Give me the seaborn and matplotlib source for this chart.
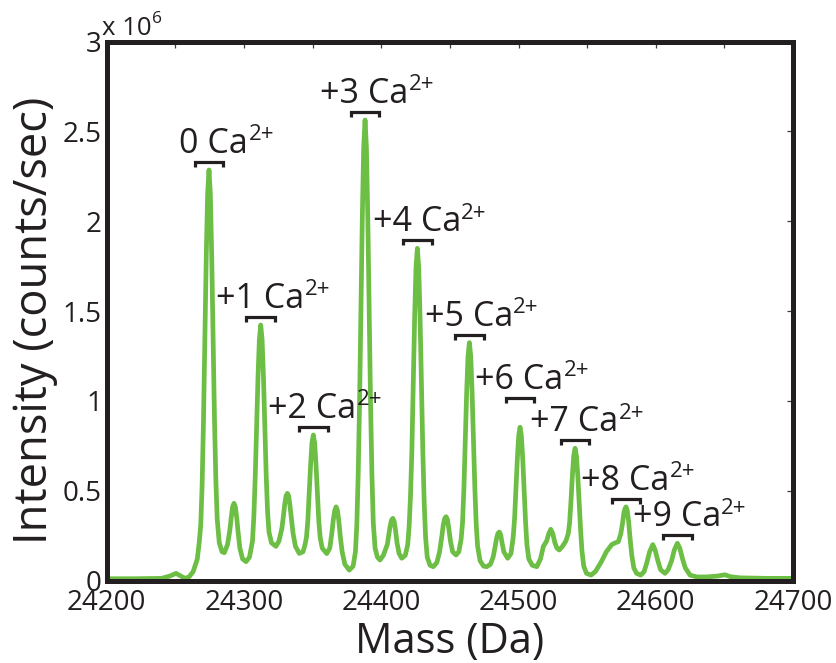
import matplotlib
matplotlib.use("Agg")
import matplotlib.pyplot as plt
import pandas as pd
import seaborn as sns
from matplotlib.ticker import MultipleLocator, FormatStrFormatter

# Deconvoluted ESI mass spectrum (intensity in units of 10^6 counts/sec)
mass_da = [
    24200.0, 24220.0, 24240.0, 24246.0, 24250.5, 24254.0, 24257.0, 24260.0, 24263.0, 24266.0,
    24267.5, 24268.5, 24269.5, 24270.5, 24271.5, 24272.5, 24273.5, 24274.5, 24275.5, 24276.5,
    24277.5, 24278.5, 24279.5, 24280.5, 24282.0, 24284.0, 24285.7, 24288.0, 24289.7, 24290.7,
    24291.7, 24292.7, 24293.7, 24294.7, 24295.7, 24297.0, 24299.0, 24301.5, 24304.0, 24306.2,
    24307.2, 24308.2, 24309.2, 24310.2, 24311.2, 24312.2, 24313.2, 24314.2, 24315.2, 24316.2,
    24317.2, 24318.2, 24320.0, 24323.3, 24325.5, 24327.6, 24328.6, 24329.6, 24330.6, 24331.6,
    24332.6, 24333.6, 24334.6, 24335.8, 24337.5, 24340.3, 24343.0, 24344.5, 24345.5, 24346.5,
    24347.5, 24348.5, 24349.5, 24350.5, 24351.5, 24352.5, 24353.5, 24354.5, 24355.5, 24357.0,
    24360.3, 24362.5, 24364.1, 24365.1, 24366.1, 24367.1, 24368.1, 24369.1, 24370.1, 24371.5,
    24373.5, 24376.7, 24379.5, 24381.2, 24382.2, 24383.2, 24384.2, 24385.2, 24386.2, 24387.2,
    24388.2, 24389.2, 24390.2, 24391.2, 24392.2, 24393.2, 24394.2, 24395.5, 24397.2, 24399.1,
    24401.5, 24404.4, 24405.4, 24406.4, 24407.4, 24408.4, 24409.4, 24410.4, 24411.5, 24413.0,
    24414.9, 24417.5, 24419.3, 24420.3, 24421.3, 24422.3, 24423.3, 24424.3, 24425.3, 24426.3,
    24427.3, 24428.3, 24429.3, 24430.3, 24431.3, 24432.3, 24433.5, 24435.5, 24437.9, 24440.5,
    24442.5, 24444.2, 24445.2, 24446.2, 24447.2, 24448.2, 24449.2, 24450.4, 24452.0, 24454.5,
    24456.5, 24458.2, 24459.2, 24460.2, 24461.2, 24462.2, 24463.2, 24464.2, 24465.2, 24466.2,
    24467.2, 24468.2, 24469.2, 24470.2, 24472.0, 24474.5, 24476.8, 24479.5, 24481.5, 24483.0,
    24484.0, 24485.0, 24486.0, 24487.0, 24488.0, 24489.3, 24492.1, 24494.5, 24496.1, 24497.1,
    24498.1, 24499.1, 24500.1, 24501.1, 24502.1, 24503.1, 24504.1, 24505.1, 24506.1, 24507.5,
    24510.0, 24513.3, 24516.0, 24518.1, 24520.5, 24522.0, 24523.5, 24525.0, 24526.5, 24528.0,
    24529.7, 24532.0, 24534.5, 24536.2, 24537.2, 24538.2, 24539.2, 24540.2, 24541.2, 24542.2,
    24543.2, 24544.2, 24545.2, 24546.2, 24547.5, 24549.5, 24552.8, 24556.0, 24560.0, 24564.0,
    24567.9, 24570.5, 24572.7, 24574.5, 24575.8, 24576.8, 24577.6, 24578.3, 24579.2, 24580.2,
    24581.2, 24582.5, 24584.0, 24586.0, 24589.0, 24591.5, 24593.5, 24595.5, 24597.8, 24599.5,
    24601.5, 24603.5, 24606.7, 24609.0, 24611.5, 24613.5, 24615.7, 24617.5, 24619.5, 24621.5,
    24625.0, 24630.0, 24637.0, 24645.0, 24650.5, 24654.0, 24661.0, 24680.0, 24700.0,
]
intensity_1e6 = [
    0.010, 0.010, 0.012, 0.025, 0.040, 0.025, 0.012, 0.020, 0.050, 0.120,
    0.220, 0.310, 0.530, 0.890, 1.350, 1.800, 2.150, 2.285, 2.150, 1.800,
    1.350, 0.900, 0.560, 0.340, 0.210, 0.160, 0.155, 0.200, 0.280, 0.350,
    0.410, 0.430, 0.410, 0.350, 0.270, 0.180, 0.120, 0.105, 0.130, 0.220,
    0.360, 0.580, 0.850, 1.130, 1.340, 1.422, 1.340, 1.130, 0.850, 0.580,
    0.380, 0.270, 0.210, 0.190, 0.220, 0.290, 0.350, 0.420, 0.470, 0.485,
    0.470, 0.410, 0.340, 0.260, 0.190, 0.151, 0.160, 0.200, 0.240, 0.330,
    0.480, 0.640, 0.765, 0.810, 0.765, 0.640, 0.480, 0.330, 0.240, 0.180,
    0.150, 0.180, 0.270, 0.340, 0.390, 0.410, 0.390, 0.330, 0.250, 0.160,
    0.090, 0.058, 0.080, 0.160, 0.310, 0.590, 0.990, 1.500, 2.020, 2.410,
    2.563, 2.410, 2.020, 1.500, 0.990, 0.590, 0.320, 0.180, 0.130, 0.114,
    0.140, 0.200, 0.250, 0.300, 0.335, 0.346, 0.330, 0.280, 0.210, 0.150,
    0.124, 0.140, 0.200, 0.300, 0.470, 0.720, 1.084, 1.457, 1.742, 1.849,
    1.742, 1.457, 1.084, 0.714, 0.430, 0.240, 0.130, 0.085, 0.077, 0.100,
    0.160, 0.250, 0.310, 0.345, 0.355, 0.340, 0.290, 0.220, 0.160, 0.142,
    0.160, 0.230, 0.320, 0.510, 0.776, 1.043, 1.247, 1.324, 1.247, 1.043,
    0.776, 0.511, 0.310, 0.190, 0.110, 0.080, 0.077, 0.090, 0.130, 0.190,
    0.235, 0.262, 0.270, 0.255, 0.210, 0.160, 0.124, 0.150, 0.240, 0.340,
    0.500, 0.672, 0.804, 0.853, 0.804, 0.672, 0.500, 0.330, 0.200, 0.120,
    0.085, 0.077, 0.120, 0.190, 0.220, 0.260, 0.285, 0.260, 0.210, 0.180,
    0.170, 0.190, 0.220, 0.260, 0.320, 0.440, 0.580, 0.693, 0.736, 0.693,
    0.580, 0.431, 0.284, 0.166, 0.080, 0.040, 0.030, 0.050, 0.100, 0.160,
    0.200, 0.210, 0.216, 0.260, 0.320, 0.380, 0.400, 0.410, 0.390, 0.330,
    0.240, 0.140, 0.070, 0.040, 0.030, 0.050, 0.100, 0.160, 0.200, 0.170,
    0.110, 0.060, 0.040, 0.060, 0.110, 0.170, 0.207, 0.180, 0.120, 0.070,
    0.030, 0.020, 0.020, 0.025, 0.032, 0.022, 0.015, 0.012, 0.012,
]

# Calcium-bound species: apex mass and intensity of each labelled peak
peak_labels = ["0", "+1", "+2", "+3", "+4", "+5", "+6", "+7", "+8", "+9"]
peak_mass = [24274.5, 24312.2, 24350.5, 24388.2, 24426.3,
             24464.2, 24501.1, 24541.2, 24578.3, 24615.7]
peak_intensity = [2.285, 1.422, 0.810, 2.563, 1.849,
                  1.324, 0.853, 0.736, 0.410, 0.207]

x_ticks = [24200, 24300, 24400, 24500, 24600, 24700]
y_ticks = [0, 0.5, 1, 1.5, 2, 2.5, 3]

GREEN = "#6cbe45"
INK = "#231f20"
DPI = 100

sns.set_theme(style="white")
plt.rcParams["font.family"] = ["Open Sans", "DejaVu Sans"]
plt.rcParams["text.color"] = INK

fig = plt.figure(figsize=(8.37, 6.63), dpi=DPI)
W_PX, H_PX = fig.get_size_inches() * DPI
ax = fig.add_axes([0.1275, 0.1244, 0.8200, 0.8130])

spectrum = pd.DataFrame({"Mass (Da)": mass_da, "Intensity": intensity_1e6})
sns.lineplot(data=spectrum, x="Mass (Da)", y="Intensity", ax=ax,
             color=GREEN, linewidth=3.4, sort=False, estimator=None,
             solid_joinstyle="round", solid_capstyle="round")

ax.set_xlim(24200, 24700)
ax.set_ylim(0, 3)
ax.set_xticks(x_ticks)
ax.xaxis.set_minor_locator(MultipleLocator(50))
ax.set_yticks(y_ticks)
ax.yaxis.set_major_formatter(FormatStrFormatter("%g"))

for side in ["left", "right", "top", "bottom"]:
    ax.spines[side].set_visible(True)
    ax.spines[side].set_linewidth(3.6)
    ax.spines[side].set_color(INK)
    ax.spines[side].set_zorder(5)

ax.tick_params(which="both", direction="in", length=4.5, width=0.9,
               color="#3c3c3c", top=True, right=True,
               labelcolor=INK, labelsize=20)
ax.tick_params(axis="x", which="both", pad=6)
ax.tick_params(axis="y", which="both", pad=3.5)
ax.grid(False)

ax.set_xlabel("Mass (Da)", fontsize=30, color=INK)
ax.xaxis.label.set_va("baseline")
ax.xaxis.set_label_coords(0.5, -0.135)

ax.set_ylabel("Intensity (counts/sec)", fontsize=30, color=INK)
ylab = ax.yaxis.label
ylab.set_va("baseline")
ylab.set_rotation_mode("anchor")
ax.yaxis.set_label_coords(-0.0874, 0.5)

renderer = fig.canvas.get_renderer()

# Fit the y label between 97 px and 545 px from the top of the figure
label_top_px, label_bottom_px = 97.0, 545.0
bb = ylab.get_window_extent(renderer)
ylab.set_fontsize(30 * (label_bottom_px - label_top_px) / bb.height)
ax_bb = ax.get_window_extent(renderer)
centre_disp = H_PX - 0.5 * (label_top_px + label_bottom_px)
ax.yaxis.set_label_coords(-0.0874, (centre_disp - ax_bb.y0) / ax_bb.height)
bb = ylab.get_window_extent(renderer)
shift = (H_PX - label_top_px) - bb.y1
ax.yaxis.set_label_coords(-0.0874, (centre_disp + shift - ax_bb.y0) / ax_bb.height)


def superscript_after(base_text, base_y_px, text, size, raise_pt, gap_px=0.0):
    """Place a raised text right after the end of base_text (display coords)."""
    tb = base_text.get_window_extent(renderer)
    x_px = tb.x1 + gap_px
    y_px = base_y_px + raise_pt * DPI / 72.0
    return fig.text(x_px / W_PX, y_px / H_PX, text, fontsize=size, color=INK,
                    ha="left", va="baseline", zorder=7)


# Axis multiplier
mult = fig.text(0.1215, 0.9472, "x 10", fontsize=18.5, color=INK,
                ha="left", va="baseline")
superscript_after(mult, 0.9472 * H_PX, "6", 12.5, 8.4, gap_px=1.0)

# Bracket and label over each calcium adduct peak
half_width = 10.4
gap = 0.045
leg = 0.028
extra_lift = {"+6": 0.12}
for lab, m, h in zip(peak_labels, peak_mass, peak_intensity):
    yb = h + gap + extra_lift.get(lab, 0.0)
    x0, x1 = m - half_width, m + half_width
    ax.plot([x0, x0, x1, x1], [yb - leg, yb, yb, yb - leg],
            color=INK, linewidth=2.3, solid_joinstyle="miter",
            solid_capstyle="butt", zorder=4)
    dx = -11.0 if lab == "0" else -22.0
    dy = 6.5
    main = ax.annotate(lab + " Ca", xy=(x0, yb), xytext=(dx, dy),
                       textcoords="offset points", ha="left", va="baseline",
                       fontsize=24.5, color=INK, zorder=6)
    base_y = ax.transData.transform((x0, yb))[1] + dy * DPI / 72.0
    superscript_after(main, base_y, "2+", 16, 9.0, gap_px=0.5)

fig.savefig("out.png", dpi=DPI)
